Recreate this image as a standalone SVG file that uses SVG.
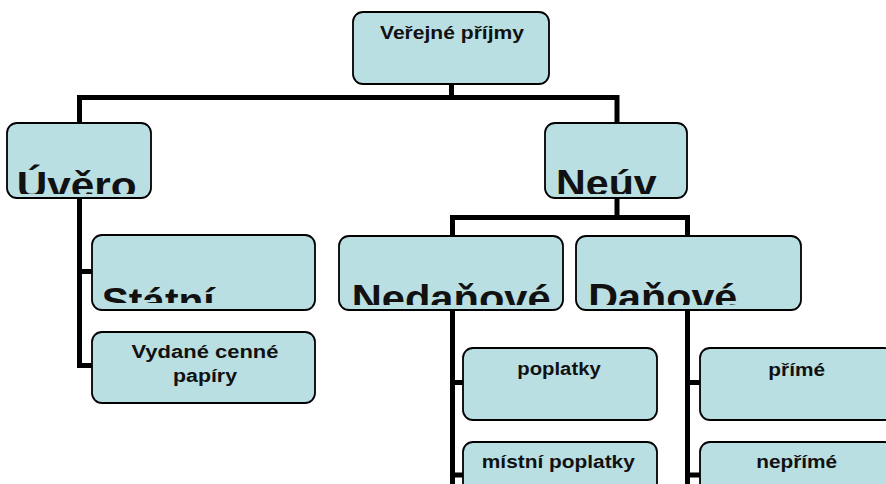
<svg xmlns="http://www.w3.org/2000/svg" width="886" height="484" viewBox="0 0 886 484">
<style>
.box{fill:#b9dfe2;stroke:#000;stroke-width:1.8}
.t{font-family:"Liberation Sans",Arial,sans-serif;font-weight:bold;fill:#111;text-anchor:middle}
.s{font-size:18px}
.b{font-family:"Liberation Sans",Arial,sans-serif;font-weight:bold;fill:#111;font-size:36px}
.c{fill:none;stroke:#000;stroke-width:5}
</style>
<defs>
<clipPath id="c1"><rect x="9" y="125" width="140" height="69"/></clipPath>
<clipPath id="c2"><rect x="547" y="125" width="138" height="69"/></clipPath>
<clipPath id="c3"><rect x="94" y="237" width="219" height="66"/></clipPath>
<clipPath id="c4"><rect x="341" y="238" width="220" height="67"/></clipPath>
<clipPath id="c5"><rect x="578" y="238" width="221" height="67"/></clipPath>
</defs>
<rect width="886" height="484" fill="#fff"/>
<g id="connectors">
<path class="c" d="M451.5 84V97.5M79.5 97.5H617M79.5 95V123M617 95V123"/>
<path class="c" d="M79.5 198V368M77 271.5H92M77 365.5H92"/>
<path class="c" d="M617 198V217.5M452.5 217.5H688M452.5 215V236M687.5 215V236"/>
<path class="c" d="M452.5 310V490M450 382.5H463M450 475H463"/>
<path class="c" d="M687.5 310V490M685 382.5H700M685 475H700"/>
</g>
<g id="n-verejne"><rect class="box" x="353" y="12" width="196" height="72" rx="10"/><text class="t s" x="452" y="38.5" textLength="144" lengthAdjust="spacingAndGlyphs">Veřejné příjmy</text></g>
<g id="n-uvero"><rect class="box" x="7" y="123" width="144" height="75" rx="10"/><text class="b" x="16.7" y="197.5" clip-path="url(#c1)" textLength="120" lengthAdjust="spacingAndGlyphs">Úvěro</text></g>
<g id="n-neuv"><rect class="box" x="545" y="123" width="142" height="75" rx="10"/><text class="b" x="556" y="196" clip-path="url(#c2)" textLength="100.7" lengthAdjust="spacingAndGlyphs">Neúv</text></g>
<g id="n-statni"><rect class="box" x="92" y="235" width="223" height="75" rx="10"/><text class="b" x="101.7" y="314" clip-path="url(#c3)" textLength="113" lengthAdjust="spacingAndGlyphs">Státní</text></g>
<g id="n-vydane"><rect class="box" x="92" y="332" width="223" height="71" rx="10"/><text class="t s" x="205" y="357.5" textLength="147" lengthAdjust="spacingAndGlyphs">Vydané cenné</text><text class="t s" x="205" y="381.5" textLength="64" lengthAdjust="spacingAndGlyphs">papíry</text></g>
<g id="n-nedanove"><rect class="box" x="339" y="236" width="224" height="74" rx="10"/><text class="b" x="351.7" y="311" clip-path="url(#c4)" textLength="199" lengthAdjust="spacingAndGlyphs">Nedaňové</text></g>
<g id="n-danove"><rect class="box" x="576" y="236" width="225" height="74" rx="10"/><text class="b" x="588.3" y="309.5" clip-path="url(#c5)" textLength="149" lengthAdjust="spacingAndGlyphs">Daňové</text></g>
<g id="n-poplatky"><rect class="box" x="463" y="348" width="194" height="72" rx="10"/><text class="t s" x="559" y="375" textLength="83.4" lengthAdjust="spacingAndGlyphs">poplatky</text></g>
<g id="n-mistni"><rect class="box" x="463" y="442" width="194" height="72" rx="10"/><text class="t s" x="558.3" y="468" textLength="153" lengthAdjust="spacingAndGlyphs">místní poplatky</text></g>
<g id="n-prime"><rect class="box" x="700" y="348" width="194" height="72" rx="10"/><text class="t s" x="796.7" y="375.5" textLength="56.7" lengthAdjust="spacingAndGlyphs">přímé</text></g>
<g id="n-neprime"><rect class="box" x="700" y="442" width="194" height="72" rx="10"/><text class="t s" x="796.7" y="468" textLength="81" lengthAdjust="spacingAndGlyphs">nepřímé</text></g>
</svg>
